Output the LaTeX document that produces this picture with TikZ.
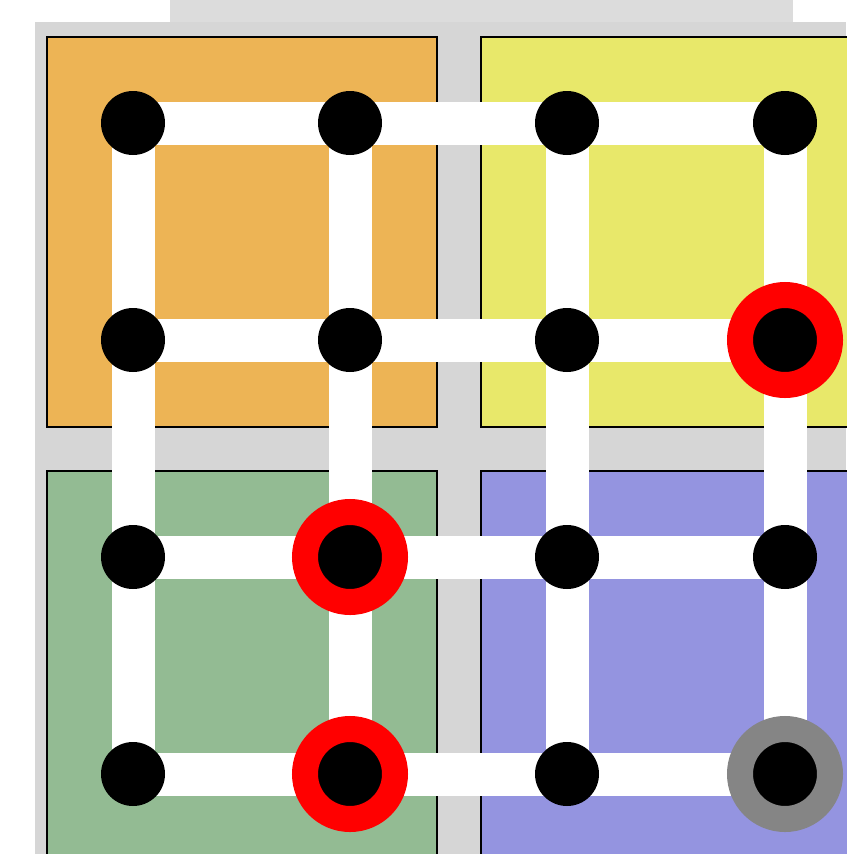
\documentclass[tikz,border=0pt]{standalone}
\usetikzlibrary{backgrounds}
\definecolor{bgrey}{HTML}{D6D6D6}
\definecolor{tgrey}{HTML}{DCDCDC}
\definecolor{qorange}{HTML}{EDB455}
\definecolor{qyellow}{HTML}{E8E86A}
\definecolor{qgreen}{HTML}{93BB93}
\definecolor{qblue}{HTML}{9494E0}
\definecolor{ringgrey}{HTML}{858585}
\begin{document}
\begin{tikzpicture}[x=1pt,y=-1pt,
  quad/.style={draw=black,line width=1.5pt},
  dot/.style={circle,fill=black,inner sep=0pt,minimum size=64pt},
  redring/.style={circle,fill=black,inner sep=0pt,minimum size=90pt,draw=red,line width=26pt},
  greyring/.style={circle,fill=black,inner sep=0pt,minimum size=90pt,draw=ringgrey,line width=26pt},
  link/.style={draw=white,line width=43pt}]
\useasboundingbox (0,0) rectangle (846,854);
\fill[white] (0,0) rectangle (846,854);
\fill[tgrey] (170,0) rectangle (793,22);
\fill[bgrey] (35,22) rectangle (846,854);
\path[quad,fill=qorange] (47,37) rectangle (437,427);
\path[quad,fill=qyellow] (481,37) rectangle (850,427);
\path[quad,fill=qgreen] (47,471) rectangle (437,858);
\path[quad,fill=qblue] (481,471) rectangle (850,858);
% nodes
\foreach \i/\x in {0/133,1/350,2/567,3/785}{
  \foreach \j/\y in {0/123,1/340,2/557,3/774}{
    \coordinate (c-\i-\j) at (\x,\y);
  }
}
% links
\foreach \i in {0,1,2,3}{
  \foreach \j/\k in {0/1,1/2,2/3}{
    \path[link] (c-\i-\j) -- (c-\i-\k);
    \path[link] (c-\j-\i) -- (c-\k-\i);
  }
}
\foreach \i in {0,1,2,3}{
  \foreach \j in {0,1,2,3}{
    \node[dot] (n-\i-\j) at (c-\i-\j) {};
  }
}
\node[redring] (r-3-1) at (c-3-1) {};
\node[redring] (r-1-2) at (c-1-2) {};
\node[redring] (r-1-3) at (c-1-3) {};
\node[greyring] (g-3-3) at (c-3-3) {};
\end{tikzpicture}
\end{document}
